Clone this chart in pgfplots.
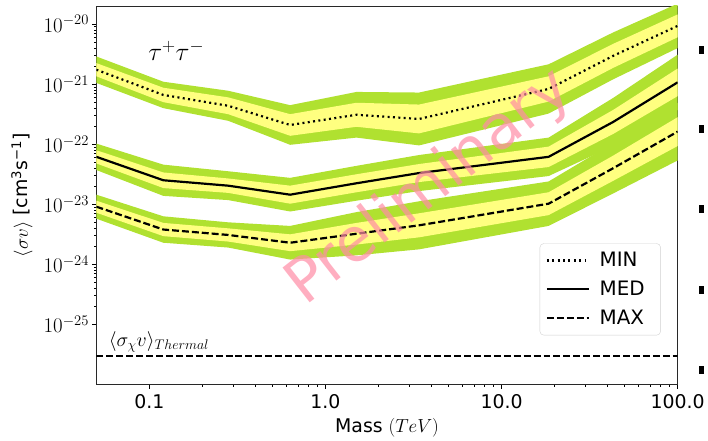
\RequirePackage{fix-cm}
\documentclass[border=0pt]{standalone}
\usepackage[no-math]{fontspec}
\setmainfont{DejaVu Sans}
\usepackage{pgfplots}
\pgfplotsset{compat=1.18}
\usepgfplotslibrary{fillbetween}
\usepackage{pgfplotstable}

\definecolor{bandG}{RGB}{176,225,48}
\definecolor{bandY}{RGB}{255,255,128}
\definecolor{prelim}{RGB}{255,140,165}
\definecolor{frame}{RGB}{40,40,40}

% columns: mass [TeV], log10 of central <sigma v>, yellow half width (decades), green half width (decades)
\pgfplotstableread{
m c y g
0.05 -20.76 0.11 0.22
0.12 -21.18 0.12 0.22
0.28 -21.36 0.14 0.25
0.63 -21.68 0.18 0.33
1.5 -21.51 0.20 0.38
3.4 -21.58 0.24 0.44
18.5 -21.08 0.21 0.41
43 -20.53 0.20 0.39
100 -20.03 0.19 0.37
}\tmin
\pgfplotstableread{
m c y g
0.05 -22.21 0.11 0.22
0.12 -22.60 0.13 0.26
0.28 -22.69 0.12 0.24
0.63 -22.84 0.15 0.28
1.5 -22.65 0.15 0.29
3.4 -22.48 0.15 0.30
18.5 -22.21 0.17 0.32
43 -21.63 0.20 0.40
100 -20.97 0.23 0.46
}\tmed
\pgfplotstableread{
m c y g
0.05 -23.04 0.10 0.20
0.12 -23.42 0.11 0.22
0.28 -23.51 0.11 0.21
0.63 -23.64 0.14 0.28
1.5 -23.49 0.18 0.36
3.4 -23.35 0.20 0.40
18.5 -22.99 0.19 0.37
43 -22.40 0.21 0.42
100 -21.79 0.24 0.48
}\tmax

\begin{document}
\begin{tikzpicture}
\begin{axis}[
  at={(97pt,55pt)}, anchor=south west,
  scale only axis, width=585pt, height=381pt,
  xmode=log, ymode=log,
  xmin=0.05, xmax=100, ymin=1e-26, ymax=2e-20,
  xtick={0.1,1,10,100}, xticklabels={0.1,1.0,10.0,100.0},
  ytick={1e-25,1e-24,1e-23,1e-22,1e-21,1e-20},
  tick align=outside, xtick pos=bottom, ytick pos=left,
  major tick length=4pt, minor tick length=2pt,
  every tick/.style={black, line width=0.6pt},
  axis line style={frame, line width=0.8pt},
  xticklabel style={font=\fontsize{19}{21}\selectfont, yshift=-2pt},
  yticklabel style={font=\fontsize{21}{23}\selectfont},
  xlabel={Mass $(TeV)$},
  ylabel={$\langle\sigma v\rangle$ [cm\textsuperscript{3}s\textsuperscript{−1}]},
  xlabel style={font=\fontsize{19}{21}\selectfont, at={(axis description cs:0.5,-0.113)}, anchor=center},
  ylabel style={font=\fontsize{19}{21}\selectfont, at={(axis description cs:-0.128,0.5)}, anchor=center},
  legend style={at={(axis description cs:0.971,0.373)}, anchor=north east,
    draw=black!18, rounded corners=4pt, fill=white, font=\fontsize{20}{22}\selectfont,
    inner xsep=6pt, inner ysep=7pt, row sep=9pt,
    nodes={inner xsep=10pt}},
  legend cell align=left,
  legend image code/.code={\draw[#1] (0pt,0pt) -- (42pt,0pt);},
]
% MIN band
\addplot[draw=none, name path=aGU, forget plot] table[x=m, y expr={10^(\thisrow{c}+\thisrow{g})}] {\tmin};
\addplot[draw=none, name path=aGL, forget plot] table[x=m, y expr={10^(\thisrow{c}-\thisrow{g})}] {\tmin};
\addplot[draw=none, name path=aYU, forget plot] table[x=m, y expr={10^(\thisrow{c}+\thisrow{y})}] {\tmin};
\addplot[draw=none, name path=aYL, forget plot] table[x=m, y expr={10^(\thisrow{c}-\thisrow{y})}] {\tmin};
\addplot[fill=bandG, draw=none, forget plot] fill between[of=aGU and aGL];
\addplot[fill=bandY, draw=none, forget plot] fill between[of=aYU and aYL];
% MED band
\addplot[draw=none, name path=bGU, forget plot] table[x=m, y expr={10^(\thisrow{c}+\thisrow{g})}] {\tmed};
\addplot[draw=none, name path=bGL, forget plot] table[x=m, y expr={10^(\thisrow{c}-\thisrow{g})}] {\tmed};
\addplot[draw=none, name path=bYU, forget plot] table[x=m, y expr={10^(\thisrow{c}+\thisrow{y})}] {\tmed};
\addplot[draw=none, name path=bYL, forget plot] table[x=m, y expr={10^(\thisrow{c}-\thisrow{y})}] {\tmed};
\addplot[fill=bandG, draw=none, forget plot] fill between[of=bGU and bGL];
\addplot[fill=bandY, draw=none, forget plot] fill between[of=bYU and bYL];
% MAX band
\addplot[draw=none, name path=cGU, forget plot] table[x=m, y expr={10^(\thisrow{c}+\thisrow{g})}] {\tmax};
\addplot[draw=none, name path=cGL, forget plot] table[x=m, y expr={10^(\thisrow{c}-\thisrow{g})}] {\tmax};
\addplot[draw=none, name path=cYU, forget plot] table[x=m, y expr={10^(\thisrow{c}+\thisrow{y})}] {\tmax};
\addplot[draw=none, name path=cYL, forget plot] table[x=m, y expr={10^(\thisrow{c}-\thisrow{y})}] {\tmax};
\addplot[fill=bandG, draw=none, forget plot] fill between[of=cGU and cGL];
\addplot[fill=bandY, draw=none, forget plot] fill between[of=cYU and cYL];
% central lines
\addplot[black, line width=2.2pt, dash pattern=on 2pt off 3.4pt] table[x=m, y expr={10^\thisrow{c}}] {\tmin};
\addlegendentry{MIN}
\addplot[black, line width=2.2pt] table[x=m, y expr={10^\thisrow{c}}] {\tmed};
\addlegendentry{MED}
\addplot[black, line width=2.2pt, dash pattern=on 7pt off 3pt] table[x=m, y expr={10^\thisrow{c}}] {\tmax};
\addlegendentry{MAX}
% thermal relic
\addplot[black, line width=2.4pt, dash pattern=on 7pt off 3pt, forget plot] coordinates {(0.05,3e-26) (100,3e-26)};
\node[anchor=south west, font=\fontsize{20}{22}\selectfont, inner sep=1pt] at (axis cs:0.058,3.3e-26) {$\langle\sigma_\chi v\rangle_{Thermal}$};
\node[font=\fontsize{26}{28}\selectfont] at (axis cs:0.142,3.6e-21) {$\tau^+\tau^-$};
\node[rotate=38, text=prelim, opacity=0.7, font=\fontsize{61}{63}\selectfont] at (axis cs:3.9,1.9e-23) {Preliminary};
\end{axis}
\fill[black] (703pt,388pt) rectangle (708pt,396pt);
\fill[black] (703pt,308pt) rectangle (708pt,316pt);
\fill[black] (703pt,228pt) rectangle (708pt,236pt);
\fill[black] (703pt,146pt) rectangle (708pt,154pt);
\fill[black] (703pt,66pt) rectangle (708pt,74pt);
\path[use as bounding box] (0pt,0pt) rectangle (708pt,442pt);
\end{tikzpicture}
\end{document}
